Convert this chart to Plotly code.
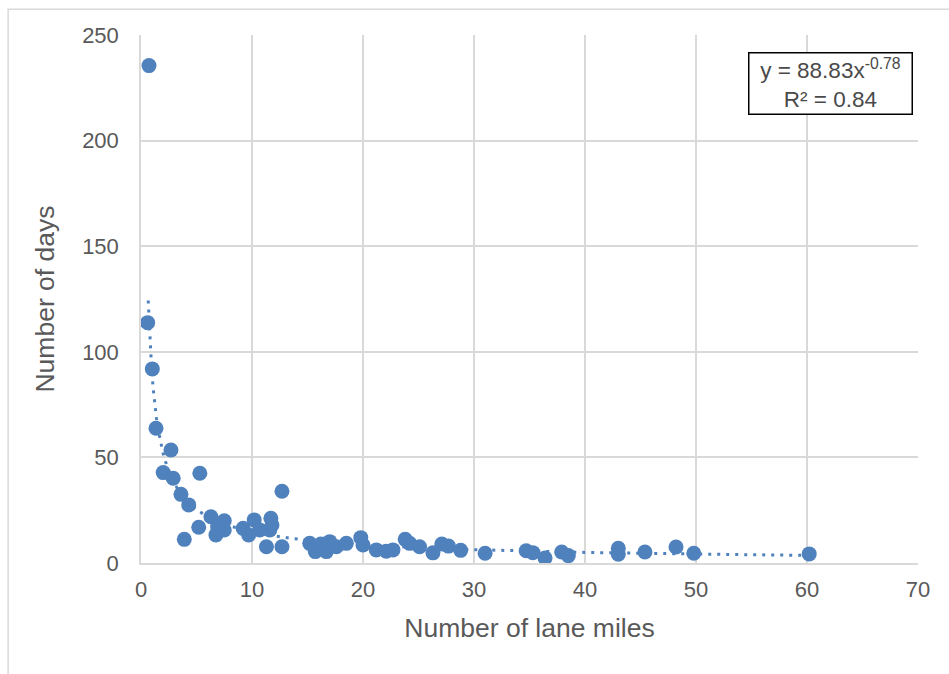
import numpy as np
import plotly.graph_objects as go

lane_miles = [0.72, 0.6, 1.02, 1.35, 2.0, 2.7, 2.9, 3.6, 4.3, 3.9, 5.3, 5.2, 6.3, 6.75, 6.9, 7.5, 7.5,
              9.2, 9.7, 10.2, 10.7, 11.3, 11.7, 11.6, 11.8, 12.7, 12.7,
              15.2, 15.7, 16.2, 16.7, 17.0, 17.6, 18.5, 19.8, 20.0, 21.2, 22.1, 22.7,
              23.8, 24.2, 25.1, 26.3, 27.1, 27.7, 28.8, 31.0, 34.7, 35.3, 36.4, 37.9, 38.5,
              43.0, 43.0, 45.4, 48.2, 49.8, 60.2]
num_days = [235.5, 113.8, 91.9, 63.8, 42.8, 53.5, 40.1, 32.5, 27.5, 11.2, 42.5, 16.9, 21.9, 13.3, 17.2, 20.0, 15.6,
            16.4, 13.3, 20.4, 15.6, 7.7, 21.2, 15.6, 18.0, 7.7, 34.0,
            9.3, 5.4, 9.0, 5.4, 10.1, 7.7, 9.3, 12.0, 8.5, 6.2, 5.6, 6.2,
            11.2, 9.3, 7.7, 4.8, 9.0, 8.0, 6.0, 4.6, 5.8, 4.9, 2.4, 5.2, 3.5,
            7.0, 4.2, 5.2, 7.6, 4.6, 4.3]

coef_a = 88.83
coef_b = -0.78
r2 = 0.84

blue = "#4F81BD"
grey_text = "#595959"
grid = "#D9D9D9"

xt = np.linspace(0.65, max(lane_miles), 400)
yt = coef_a * xt ** coef_b

fig = go.Figure()
fig.add_trace(go.Scatter(x=xt, y=yt, mode="lines",
                         line=dict(color=blue, width=3, dash="3px,6px"),
                         hoverinfo="skip", showlegend=False))
fig.add_trace(go.Scatter(x=lane_miles, y=num_days, mode="markers",
                         marker=dict(color=blue, size=15, line=dict(width=0)),
                         showlegend=False))

fig.update_layout(
    width=949, height=674,
    margin=dict(l=141, r=31, t=35, b=111),
    paper_bgcolor="white", plot_bgcolor="white",
    font=dict(family="Liberation Sans, Arial", color=grey_text, size=22),
    xaxis=dict(range=[0, 70], tickvals=list(range(0, 71, 10)), showgrid=True,
               gridcolor=grid, gridwidth=1.5, zeroline=False, showline=True,
               linecolor=grid, linewidth=1.5, ticks="", ticklen=0,
               ticklabelstandoff=6,
               tickfont=dict(size=22, color=grey_text),
               title=dict(text="Number of lane miles", font=dict(size=26.5, color=grey_text), standoff=17)),
    yaxis=dict(range=[0, 250], tickvals=list(range(0, 251, 50)), showgrid=True,
               gridcolor=grid, gridwidth=1.5, zeroline=False, showline=True,
               linecolor=grid, linewidth=1.5, ticks="", ticklen=0,
               ticklabelstandoff=16,
               tickfont=dict(size=22, color=grey_text),
               title=dict(text="Number of days", font=dict(size=26.5, color=grey_text), standoff=20)),
    shapes=[dict(type="rect", xref="paper", yref="paper",
                 x0=-0.171, x1=1.06, y0=-0.26, y1=1.049,
                 line=dict(color="#D9D9D9", width=1.5), fillcolor="rgba(0,0,0,0)", layer="below")],
    annotations=[dict(xref="paper", yref="paper", x=0.887, y=0.909,
                      xanchor="center", yanchor="middle",
                      text=f"y = {coef_a:.2f}x<sup>{coef_b:.2f}</sup><br>R² = {r2:.2f}",
                      showarrow=False, align="center", width=160, height=58,
                      font=dict(size=22.5, color="#4a4a4a"),
                      bordercolor="black", borderwidth=1.5, borderpad=1, bgcolor="white")],
)

fig.write_html("out.html")
